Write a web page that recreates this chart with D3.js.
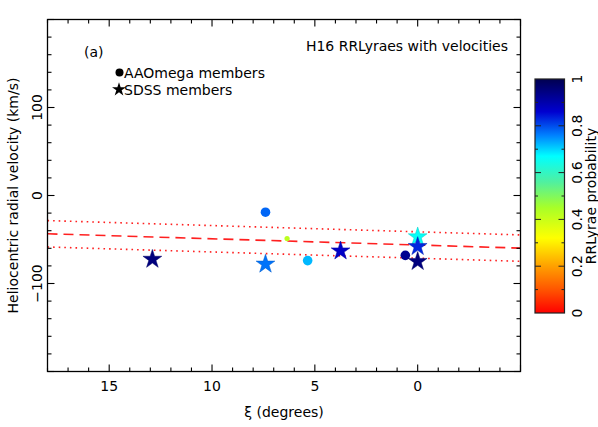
<!DOCTYPE html>
<html>
<head>
<meta charset="utf-8">
<script src="https://cdn.jsdelivr.net/npm/d3@7"></script>
<style>
  body { margin: 0; background: #fff; }
  text { font-family: "DejaVu Sans", sans-serif; fill: #000; }
</style>
</head>
<body>
<script>
// AAOmega members (circles)
var amXi   = [7.4, 6.35, 5.35, 0.6];
var amVel  = [-19, -49, -74, -68];
var amProb = [0.78, 0.42, 0.72, 0.93];
var amFaint = [false, true, false, false];

// SDSS members (stars)
var sdssXi   = [12.9, 7.4, 3.75, 0.0, 0.0, 0.0];
var sdssVel  = [-72.5, -78, -63, -47, -58, -75];
var sdssProb = [0.95, 0.77, 0.87, 0.66, 0.83, 0.95];

// mean velocity gradient and +-15 km/s band
var fitXi  = [18, -5];
var fitVel = [-43.5, -59.8];
var bandWidth = 15;

var xTicks = [15, 10, 5, 0];
var yTicks = [100, 0, -100];
var cbTicks = [0, 0.2, 0.4, 0.6, 0.8, 1];

// rainbow colour table
var cStops  = [0, 0.1, 0.2, 0.32, 0.45, 0.56, 0.67, 0.76, 0.86, 1];
var cColors = ["#ff0000", "#ff5500", "#ffa000", "#ffff00", "#a8ff28", "#50f0a0",
               "#00ffff", "#0080ff", "#0000d0", "#000050"];

var w = 598, h = 427;
var pL = 47.5, pR = 520.5, pT = 19.5, pB = 371.5;

var svg = d3.select("body").append("svg")
  .attr("width", w)
  .attr("height", h);

var x = d3.scaleLinear().domain([18, -5]).range([pL, pR]);
var y = d3.scaleLinear().domain([-200, 200]).range([pB, pT]);
var color = d3.scaleLinear().domain(cStops).range(cColors);

// fit lines
var line = d3.line().x(function(d) { return x(d[0]); }).y(function(d) { return y(d[1]); });
var fit = fitXi.map(function(d, i) { return [d, fitVel[i]]; });
var up = fitXi.map(function(d, i) { return [d, fitVel[i] + bandWidth]; });
var lo = fitXi.map(function(d, i) { return [d, fitVel[i] - bandWidth]; });

svg.append("path").attr("d", line(fit))
  .attr("fill", "none").attr("stroke", "#ff2020").attr("stroke-width", 1.6)
  .attr("stroke-dasharray", "10,6");
[up, lo].forEach(function(p) {
  svg.append("path").attr("d", line(p))
    .attr("fill", "none").attr("stroke", "#ff2020").attr("stroke-width", 1.6)
    .attr("stroke-dasharray", "1.6,4");
});

// circles
amXi.forEach(function(d, i) {
  svg.append("circle")
    .attr("cx", x(d))
    .attr("cy", y(amVel[i]))
    .attr("r", amFaint[i] ? 2.6 : 4.8)
    .attr("fill", color(amProb[i]));
});

// stars
var star = d3.symbol().type(d3.symbolStar).size(110);
sdssXi.forEach(function(d, i) {
  svg.append("path")
    .attr("d", star())
    .attr("transform", "translate(" + x(d) + "," + y(sdssVel[i]) + ")")
    .attr("fill", color(sdssProb[i]))
    .attr("stroke", d3.color(color(sdssProb[i])).darker(0.6))
    .attr("stroke-width", 0.5);
});

// frame and ticks
svg.append("rect")
  .attr("x", pL).attr("y", pT)
  .attr("width", pR - pL).attr("height", pB - pT)
  .attr("fill", "none").attr("stroke", "#000").attr("stroke-width", 1.3);

var ticks = svg.append("g").attr("stroke", "#000").attr("stroke-width", 1.1);
d3.range(-5, 19, 1).forEach(function(v) {
  var len = v % 5 === 0 ? 7 : 4;
  ticks.append("line").attr("x1", x(v)).attr("x2", x(v)).attr("y1", pB).attr("y2", pB - len);
  ticks.append("line").attr("x1", x(v)).attr("x2", x(v)).attr("y1", pT).attr("y2", pT + len);
});
d3.range(-200, 201, 20).forEach(function(v) {
  var len = v % 100 === 0 ? 7 : 4;
  ticks.append("line").attr("y1", y(v)).attr("y2", y(v)).attr("x1", pL).attr("x2", pL + len);
  ticks.append("line").attr("y1", y(v)).attr("y2", y(v)).attr("x1", pR).attr("x2", pR - len);
});

svg.selectAll(".xl").data(xTicks).enter().append("text")
  .attr("x", function(d) { return x(d); })
  .attr("y", 391)
  .attr("text-anchor", "middle")
  .attr("font-size", 14)
  .text(function(d) { return d; });

svg.selectAll(".yl").data(yTicks).enter().append("text")
  .attr("transform", function(d) { return "translate(42," + y(d) + ") rotate(-90)"; })
  .attr("text-anchor", "middle")
  .attr("font-size", 14)
  .text(function(d) { return d < 0 ? "\u2212" + (-d) : d; });

svg.append("text")
  .attr("x", 284).attr("y", 417)
  .attr("text-anchor", "middle")
  .attr("font-size", 14)
  .text("\u03BE (degrees)");

svg.append("text")
  .attr("transform", "translate(18," + y(0) + ") rotate(-90)")
  .attr("text-anchor", "middle")
  .attr("font-size", 14)
  .text("Heliocentric radial velocity (km/s)");

svg.append("text").attr("x", 84).attr("y", 57).attr("font-size", 14).text("(a)");
svg.append("text").attr("x", 508).attr("y", 51).attr("text-anchor", "end")
  .attr("font-size", 14).text("H16 RRLyraes with velocities");

// legend
svg.append("circle").attr("cx", 119.5).attr("cy", 72.5).attr("r", 4).attr("fill", "#000");
svg.append("text").attr("x", 124).attr("y", 77.5).attr("font-size", 14).text("AAOmega members");
svg.append("path").attr("d", d3.symbol().type(d3.symbolStar).size(60)())
  .attr("transform", "translate(119,89.5)").attr("fill", "#000");
svg.append("text").attr("x", 124).attr("y", 94.5).attr("font-size", 14).text("SDSS members");

// colour bar
var cbL = 535, cbR = 564.5, cbT = 79, cbB = 313;
var cy = d3.scaleLinear().domain([0, 1]).range([cbB, cbT]);
var grad = svg.append("defs").append("linearGradient")
  .attr("id", "cb").attr("x1", 0).attr("x2", 0).attr("y1", 1).attr("y2", 0);
cStops.forEach(function(s, i) {
  grad.append("stop").attr("offset", s).attr("stop-color", cColors[i]);
});
svg.append("rect").attr("x", cbL).attr("y", cbT)
  .attr("width", cbR - cbL).attr("height", cbB - cbT)
  .attr("fill", "url(#cb)").attr("stroke", "#222").attr("stroke-width", 1.2);

var cbt = svg.append("g").attr("stroke", "#222").attr("stroke-width", 1);
d3.range(1, 10).forEach(function(k) {
  var v = k / 10, len = k % 2 === 0 ? 6 : 3;
  cbt.append("line").attr("x1", cbL).attr("x2", cbL + len).attr("y1", cy(v)).attr("y2", cy(v));
  cbt.append("line").attr("x1", cbR).attr("x2", cbR - len).attr("y1", cy(v)).attr("y2", cy(v));
});

svg.selectAll(".cl").data(cbTicks).enter().append("text")
  .attr("transform", function(d) { return "translate(582," + cy(d) + ") rotate(-90)"; })
  .attr("text-anchor", "middle")
  .attr("font-size", 14)
  .text(function(d) { return d; });

svg.append("text")
  .attr("transform", "translate(596," + (cbT + cbB) / 2 + ") rotate(-90)")
  .attr("text-anchor", "middle")
  .attr("font-size", 14)
  .text("RRLyrae probability");
</script>
</body>
</html>
